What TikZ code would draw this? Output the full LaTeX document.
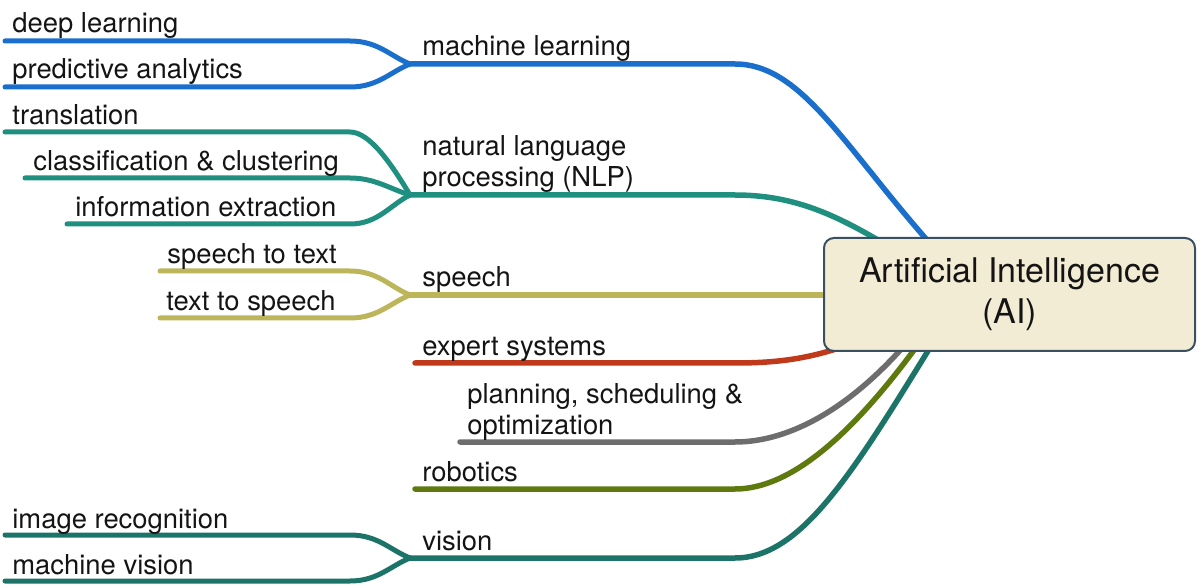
\documentclass[tikz,border=0pt]{standalone}
\usepackage{fontspec}
\setmainfont{TeX Gyre Heros}
\definecolor{mlblue}{RGB}{27,111,204}
\definecolor{nlpteal}{RGB}{31,143,128}
\definecolor{speechy}{RGB}{189,181,90}
\definecolor{expred}{RGB}{192,57,27}
\definecolor{plangray}{RGB}{109,109,109}
\definecolor{robolive}{RGB}{94,122,15}
\definecolor{visteal}{RGB}{28,116,104}
\definecolor{aifill}{RGB}{242,236,213}
\definecolor{aiedge}{RGB}{58,80,96}
\definecolor{txt}{RGB}{20,20,20}

\begin{document}
\begin{tikzpicture}[x=0.5pt, y=-0.5pt,
    lbl/.style={anchor=base west, inner sep=0pt, text=txt, align=left,
        font=\fontsize{13.7}{15.5}\selectfont},
    branch/.style={line width=2.75pt, line cap=round},
    twig/.style={line width=2.5pt, line cap=round},
    core/.style={draw=aiedge, fill=aifill, line width=1pt, rounded corners=5pt,
        minimum width=185.5pt, minimum height=56.5pt, align=center, text=txt,
        font=\fontsize{17}{20.5}\selectfont}]
    \useasboundingbox (0,0) rectangle (1200,588);
    % Hubs where the twigs meet
    \coordinate (mlhub) at (410,64);
    \coordinate (nlphub) at (410,195);
    \coordinate (sphub) at (410,295);
    \coordinate (exhub) at (415,363);
    \coordinate (plhub) at (460,442);
    \coordinate (rohub) at (415,489);
    \coordinate (vihub) at (410,558);
    % Twig starts
    \coordinate (deep) at (5,41);
    \coordinate (pred) at (5,87);
    \coordinate (trans) at (5,132);
    \coordinate (class) at (25,178);
    \coordinate (info) at (67,224);
    \coordinate (stt) at (160,271);
    \coordinate (tts) at (160,318);
    \coordinate (imrec) at (5,535);
    \coordinate (mavis) at (5,581);
    \coordinate (split) at (350,0);
    \coordinate (bend) at (735,0);
    % Ends under the box
    \coordinate (mlend) at (927,240);
    \coordinate (nlpend) at (878,240);
    \coordinate (spend) at (830,295);
    \coordinate (exend) at (845,346);
    \coordinate (plend) at (904,346);
    \coordinate (roend) at (917,346);
    \coordinate (viend) at (931,346);
    % Twigs
    \draw [twig, mlblue] (deep) -- (deep -| split) .. controls +(28,0) and +(-20,-8) .. (mlhub);
    \draw [twig, mlblue] (pred) -- (pred -| split) .. controls +(28,0) and +(-20,8) .. (mlhub);
    \draw [twig, nlpteal] (trans) -- (trans -| split) .. controls +(20,0) and +(-18,-30) .. (nlphub);
    \draw [twig, nlpteal] (class) -- (class -| split) .. controls +(25,0) and +(-20,-6) .. (nlphub);
    \draw [twig, nlpteal] (info) -- (info -| split) .. controls +(28,0) and +(-20,10) .. (nlphub);
    \draw [twig, speechy] (stt) -- (stt -| split) .. controls +(28,0) and +(-20,-8) .. (sphub);
    \draw [twig, speechy] (tts) -- (tts -| split) .. controls +(28,0) and +(-20,8) .. (sphub);
    \draw [twig, visteal] (imrec) -- (imrec -| split) .. controls +(28,0) and +(-20,-8) .. (vihub);
    \draw [twig, visteal] (mavis) -- (mavis -| split) .. controls +(28,0) and +(-20,8) .. (vihub);
    % Branches to the centre
    \draw [branch, mlblue] (mlhub) -- (mlhub -| bend) .. controls +(65,0) and +(-85,-97) .. (mlend);
    \draw [branch, nlpteal] (nlphub) -- (nlphub -| bend) .. controls +(55,0) and +(-48,-28) .. (nlpend);
    \draw [branch, speechy] (sphub) -- (spend);
    \draw [branch, expred] (exhub) -- (exhub -| bend) .. controls +(45,0) and +(-35,12) .. (exend);
    \draw [branch, plangray] (plhub) -- (plhub -| bend) .. controls +(55,0) and +(-55,62) .. (plend);
    \draw [branch, robolive] (rohub) -- (rohub -| bend) .. controls +(55,0) and +(-66,90) .. (roend);
    \draw [branch, visteal] (vihub) -- (vihub -| bend) .. controls +(65,0) and +(-80,130) .. (viend);
    % Centre
    \node [core] (ai) at (1009.5,294.5) {Artificial Intelligence\\(AI)};
    % Labels
    \node [lbl] (deeplbl) at (12,33) {deep learning};
    \node [lbl] (predlbl) at (12,79) {predictive analytics};
    \node [lbl] (translbl) at (12,125) {translation};
    \node [lbl] (classlbl) at (33,171) {classification \& clustering};
    \node [lbl] (infolbl) at (75,217) {information extraction};
    \node [lbl] (sttlbl) at (167,264) {speech to text};
    \node [lbl] (ttslbl) at (166,311) {text to speech};
    \node [lbl] (imreclbl) at (12,528) {image recognition};
    \node [lbl] (mavislbl) at (12,574) {machine vision};
    \node [lbl] (ml) at (422,56) {machine learning};
    \node [lbl] (nlp) at (422,187) {natural language\\processing (NLP)};
    \node [lbl] (sp) at (422,287) {speech};
    \node [lbl] (ex) at (422,356) {expert systems};
    \node [lbl] (pl) at (467,434) {planning, scheduling \&\\optimization};
    \node [lbl] (ro) at (422,481) {robotics};
    \node [lbl] (vi) at (422,550) {vision};
\end{tikzpicture}
\end{document}
